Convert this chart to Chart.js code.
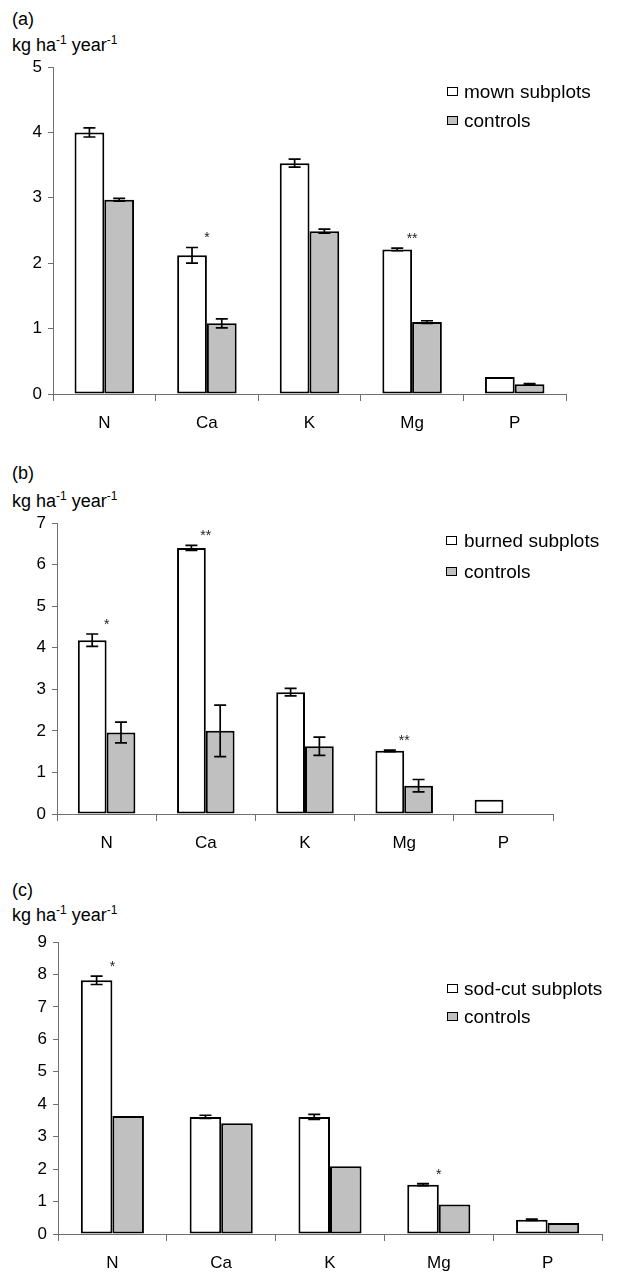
<!DOCTYPE html>
<html>
<head>
<meta charset="utf-8">
<script src="https://cdn.jsdelivr.net/npm/chart.js@4.4.1/dist/chart.umd.min.js"></script>
<style>
  body { margin: 0; background: #fff; }
  #wrap { position: relative; width: 622px; height: 1272px; font-family: "Liberation Sans", Arial, sans-serif; color: #000; }
  canvas { position: absolute; left: 0; }
  .t { position: absolute; font-size: 18px; line-height: 18px; white-space: nowrap; }
  .t sup { font-size: 12px; position: relative; top: -7px; vertical-align: baseline; line-height: 0; }
  .box { position: absolute; width: 9px; height: 7px; border: 1.5px solid #000; }
  .leg { position: absolute; font-size: 19px; line-height: 19px; white-space: nowrap; }
</style>
</head>
<body>
<div id="wrap">
  <div class="t" style="left:12px;top:10px">(a)</div>
  <div class="t" style="left:12px;top:36px">kg ha<sup>-1</sup> year<sup>-1</sup></div>
  <canvas id="chartA" width="622" height="440" style="top:0"></canvas>
  <div class="box" style="left:447px;top:87px;background:#fff"></div>
  <div class="leg" style="left:464px;top:82px">mown subplots</div>
  <div class="box" style="left:447px;top:116px;background:#c0c0c0"></div>
  <div class="leg" style="left:464px;top:111px">controls</div>

  <div class="t" style="left:12px;top:464px">(b)</div>
  <div class="t" style="left:12px;top:492px">kg ha<sup>-1</sup> year<sup>-1</sup></div>
  <canvas id="chartB" width="622" height="408" style="top:450px"></canvas>
  <div class="box" style="left:446px;top:536px;background:#fff"></div>
  <div class="leg" style="left:464px;top:531px">burned subplots</div>
  <div class="box" style="left:446px;top:567px;background:#c0c0c0"></div>
  <div class="leg" style="left:464px;top:562px">controls</div>

  <div class="t" style="left:12px;top:881px">(c)</div>
  <div class="t" style="left:12px;top:906px">kg ha<sup>-1</sup> year<sup>-1</sup></div>
  <canvas id="chartC" width="622" height="412" style="top:860px"></canvas>
  <div class="box" style="left:447px;top:984px;background:#fff"></div>
  <div class="leg" style="left:464px;top:979px">sod-cut subplots</div>
  <div class="box" style="left:447px;top:1012px;background:#c0c0c0"></div>
  <div class="leg" style="left:464px;top:1007px">controls</div>
</div>

<script>
// categories shared by all three panels
const elements = ['N', 'Ca', 'K', 'Mg', 'P'];

// (a) mowing
const mownA = [4.00, 2.12, 3.53, 2.21, 0.26];
const mownErrA = [0.07, 0.12, 0.06, 0.02, 0];
const ctrlA = [2.97, 1.08, 2.49, 1.10, 0.15];
const ctrlErrA = [0.02, 0.07, 0.03, 0.02, 0.01];
const sigA = ['', '*', '', '**', ''];
const ticksA = [0, 1, 2, 3, 4, 5];

// (b) burning
const burnB = [4.18, 6.40, 2.93, 1.52, 0.34];
const burnErrB = [0.15, 0.06, 0.09, 0.02, 0];
const ctrlB = [1.96, 2.00, 1.63, 0.68, null];
const ctrlErrB = [0.25, 0.62, 0.22, 0.15, 0];
const sigB = ['*', '**', '', '**', ''];
const ticksB = [0, 1, 2, 3, 4, 5, 6, 7];

// (c) sod-cutting
const sodC = [7.82, 3.61, 3.61, 1.52, 0.44];
const sodErrC = [0.13, 0.05, 0.08, 0.03, 0.02];
const ctrlC = [3.64, 3.41, 2.09, 0.91, 0.34];
const ctrlErrC = [0, 0, 0, 0, 0];
const sigC = ['*', '', '', '*', ''];
const ticksC = [0, 1, 2, 3, 4, 5, 6, 7, 8, 9];

const AXIS = '#707070';
const FONT = { family: '"Liberation Sans", Arial, sans-serif', size: 17 };

// draws error bars and significance stars from the datasets
const errorBars = {
  id: 'errorBars',
  afterDatasetsDraw(chart) {
    const ctx = chart.ctx;
    const y = chart.scales.y;
    const x = chart.scales.x;
    ctx.save();
    ctx.strokeStyle = '#000';
    ctx.lineWidth = 1.7;
    chart.data.datasets.forEach((ds, i) => {
      const meta = chart.getDatasetMeta(i);
      meta.data.forEach((bar, j) => {
        const v = ds.data[j];
        const e = ds.err[j];
        if (v == null || !e) return;
        const top = y.getPixelForValue(v + e);
        const bot = y.getPixelForValue(v - e);
        ctx.beginPath();
        ctx.moveTo(bar.x, top); ctx.lineTo(bar.x, bot);
        ctx.moveTo(bar.x - 6, top); ctx.lineTo(bar.x + 6, top);
        ctx.moveTo(bar.x - 6, bot); ctx.lineTo(bar.x + 6, bot);
        ctx.stroke();
      });
    });
    const first = chart.data.datasets[0];
    ctx.fillStyle = '#222';
    ctx.font = '14px "Liberation Sans", Arial, sans-serif';
    ctx.textAlign = 'center';
    ctx.textBaseline = 'middle';
    chart.options.sig.forEach((s, j) => {
      if (!s) return;
      const top = y.getPixelForValue(first.data[j] + (first.err[j] || 0));
      ctx.fillText(s, x.getPixelForValue(j), top - 9);
    });
    ctx.restore();
  }
};

function makeChart(id, series, errs, sig, ticks, box) {
  return new Chart(document.getElementById(id), {
    type: 'bar',
    data: {
      labels: elements,
      datasets: [
        { data: series[0], err: errs[0], backgroundColor: '#ffffff', borderColor: '#000', borderWidth: 2, borderSkipped: false },
        { data: series[1], err: errs[1], backgroundColor: '#c0c0c0', borderColor: '#000', borderWidth: 2, borderSkipped: false }
      ]
    },
    options: {
      responsive: false,
      animation: false,
      devicePixelRatio: 1,
      sig: sig,
      categoryPercentage: 0.58,
      barPercentage: 1,
      layout: { padding: { top: box.top, right: box.right, left: 0, bottom: 0 } },
      plugins: { legend: { display: false }, tooltip: { enabled: false } },
      scales: {
        x: {
          grid: { offset: true, drawOnChartArea: false, tickLength: 7, color: AXIS },
          border: { color: AXIS },
          ticks: { color: '#000', font: FONT, padding: 12 },
          afterFit: s => { s.height = box.xh; }
        },
        y: {
          min: ticks[0],
          max: ticks[ticks.length - 1],
          afterBuildTicks: s => { s.ticks = ticks.map(v => ({ value: v })); },
          ticks: { color: '#000', font: FONT, padding: 6 },
          grid: { drawOnChartArea: false, tickLength: 5, color: AXIS },
          border: { color: AXIS },
          afterFit: s => { s.width = box.yw; }
        }
      }
    },
    plugins: [errorBars]
  });
}

makeChart('chartA', [mownA, ctrlA], [mownErrA, ctrlErrA], sigA, ticksA, { top: 67, right: 56, xh: 46, yw: 53 });
makeChart('chartB', [burnB, ctrlB], [burnErrB, ctrlErrB], sigB, ticksB, { top: 73, right: 69, xh: 44, yw: 57 });
makeChart('chartC', [sodC, ctrlC], [sodErrC, ctrlErrC], sigC, ticksC, { top: 82, right: 20, xh: 38, yw: 58 });
</script>
</body>
</html>
